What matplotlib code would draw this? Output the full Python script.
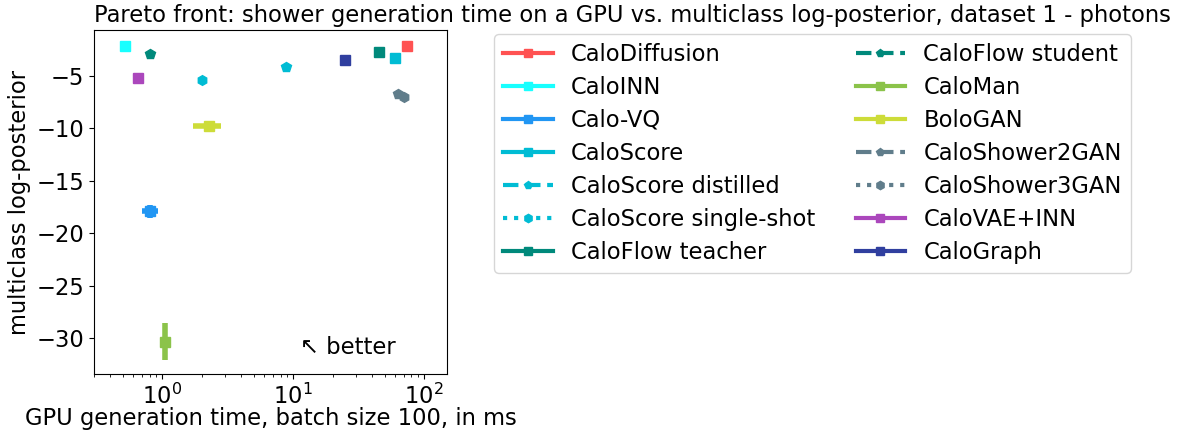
import matplotlib.pyplot as plt
from matplotlib.lines import Line2D
import numpy as np

models = ["CaloDiffusion", "CaloINN", "Calo-VQ", "CaloScore", "CaloScore distilled",
          "CaloScore single-shot", "CaloFlow teacher", "CaloFlow student", "CaloMan",
          "BoloGAN", "CaloShower2GAN", "CaloShower3GAN", "CaloVAE+INN", "CaloGraph"]
colors = ["#FF5252", "#18FFFF", "#2196F3", "#00BCD4", "#00BCD4", "#00BCD4", "#00897B",
          "#00897B", "#8BC34A", "#CDDC39", "#607D8B", "#607D8B", "#AB47BC", "#303F9F"]
styles = ["-", "-", "-", "-", "--", ":", "-", "--", "-", "-", "--", ":", "-", "-"]
markers = ["s", "s", "s", "s", "p", "h", "s", "p", "s", "s", "p", "h", "s", "s"]

gen_time = [74.6, 0.52, 0.81, 60.0, 8.8, 2.01, 45.3, 0.80, 1.04, 2.26, 63.0, 70.3, 0.645, 25.0]
gen_time_err = [0.0, 0.03, 0.11, 4.0, 0.3, 0.1, 0.0, 0.0, 0.03, 0.56, 2.0, 2.0, 0.0, 0.0]
log_post = [-2.14, -2.17, -17.9, -3.29, -4.17, -5.41, -2.77, -2.93, -30.3, -9.76,
            -6.74, -7.06, -5.19, -3.53]
log_post_err = [0.0, 0.0, 0.6, 0.1, 0.0, 0.0, 0.0, 0.0, 1.8, 0.3, 0.1, 0.1, 0.0, 0.0]

fs = 16.3
fig = plt.figure(figsize=(11.83, 4.36), dpi=100)
ax = fig.add_axes([0.0795, 0.142, 0.2985, 0.789])

for i, m in enumerate(models):
    ax.errorbar(gen_time[i], log_post[i], xerr=gen_time_err[i], yerr=log_post_err[i],
                fmt=markers[i], color=colors[i], ms=7, elinewidth=4, capsize=0)

ax.set_xscale("log")
ax.set_xlim(0.3, 150)
ax.set_ylim(-33.4, -0.65)
ax.tick_params(labelsize=fs)
ax.set_xlabel("GPU generation time, batch size 100, in ms", fontsize=fs, labelpad=-1.5)
ax.set_ylabel("multiclass log-posterior", fontsize=fs)
ax.text(0.583, 0.045, "↖ better", transform=ax.transAxes, fontsize=fs, ha="left", va="bottom")
ax.set_title("Pareto front: shower generation time on a GPU vs. multiclass log-posterior, "
             "dataset 1 - photons", fontsize=fs, loc="left", pad=5.5)

handles = [Line2D([0], [0], color=colors[i], ls=styles[i], marker=markers[i], lw=3, ms=6)
           for i in range(len(models))]
fig.legend(handles, models, ncol=2, fontsize=fs, loc="upper left",
           bbox_to_anchor=(0.4176, 0.922), borderaxespad=0, labelspacing=0.44,
           handlelength=2.2, columnspacing=1.78, frameon=True)

fig.savefig("out.png", dpi=100)
